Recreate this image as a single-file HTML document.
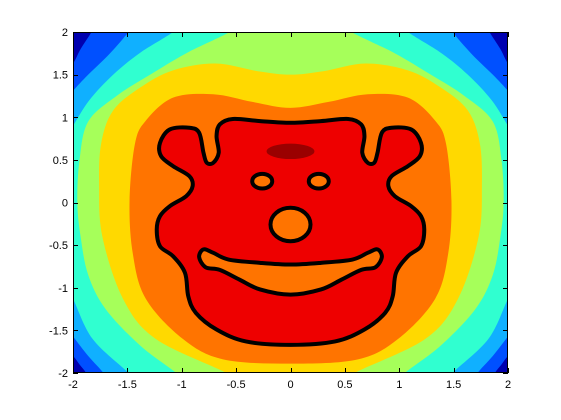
<!DOCTYPE html>
<html><head><meta charset="utf-8"><style>
body{margin:0;background:#fff;}
svg{display:block;font-family:"Liberation Sans",sans-serif;}
</style></head><body>
<svg id="chart" width="561" height="420"></svg>
<script>
// ---- data (data coordinates; left half, mirrored about x=0) ----
const xTicks = [-2,-1.5,-1,-0.5,0,0.5,1,1.5,2];
const yTicks = [-2,-1.5,-1,-0.5,0,0.5,1,1.5,2];
const xTickLabels = ["-2","-1.5","-1","-0.5","0","0.5","1","1.5","2"];
const yTickLabels = ["-2","-1.5","-1","-0.5","0","0.5","1","1.5","2"];
const levelColors = ["#0000b0","#0050ff","#10b0ff","#30ffd0","#a6ff5a","#ffd900","#ff7400","#ee0000","#9a0000"];
const blueLevel = [[-1.8,2.1],[-1.83,2.0],[-1.93,1.8],[-2.0,1.63],[-2.1,1.5],[-2.1,-1.7],[-2.0,-1.80],[-1.94,-1.9],[-1.88,-2.0],[-1.86,-2.1]];
const lightBlueLevel = [[-1.45,2.1],[-1.49,2.0],[-1.66,1.75],[-1.86,1.5],[-2.0,1.31],[-2.1,1.15],[-2.1,-1.4],[-2.0,-1.57],[-1.86,-1.8],[-1.72,-2.0],[-1.7,-2.1]];
const cyanLevel = [[-1.03,2.1],[-1.08,2.0],[-1.39,1.75],[-1.63,1.5],[-1.85,1.2],[-2.0,0.9],[-2.1,0.7],[-2.1,-0.9],[-2.0,-1.13],[-1.82,-1.6],[-1.49,-2.0],[-1.45,-2.1]];
const greenLevel = [[-0.5,2.1],[-0.56,2.0],[-0.96,1.75],[-1.29,1.5],[-1.6,1.25],[-1.86,0.95],[-1.94,0.5],[-1.96,0],[-1.93,-0.4],[-1.86,-0.85],[-1.70,-1.25],[-1.38,-1.68],[-1.05,-2.0],[-1.0,-2.1]];
const yellowLevel = [[0,1.5],[-0.3,1.54],[-0.69,1.63],[-1.08,1.55],[-1.38,1.35],[-1.63,1.08],[-1.74,0.7],[-1.76,0.2],[-1.73,-0.4],[-1.54,-1.13],[-1.24,-1.60],[-0.59,-2.0],[-0.55,-2.1]];
const orangeLevel = [[0,1.11],[-0.35,1.18],[-0.71,1.27],[-1.08,1.23],[-1.33,0.96],[-1.43,0.69],[-1.48,0.02],[-1.45,-0.6],[-1.33,-1.13],[-0.99,-1.60],[-0.62,-1.84],[0,-1.89]];
const faceContour = [[0,0.935],[-0.28,0.955],[-0.53,0.98],[-0.65,0.916],[-0.68,0.779],[-0.66,0.583],[-0.71,0.466],[-0.77,0.466],[-0.80,0.583],[-0.84,0.818],[-0.93,0.877],[-1.11,0.857],[-1.20,0.70],[-1.19,0.544],[-1.08,0.427],[-0.93,0.309],[-0.90,0.192],[-0.96,0.074],[-1.11,-0.043],[-1.20,-0.16],[-1.23,-0.317],[-1.20,-0.513],[-1.08,-0.63],[-0.97,-0.826],[-0.94,-1.10],[-0.87,-1.295],[-0.68,-1.49],[-0.41,-1.63],[0,-1.67]];
const mouthContour = [[0,-0.728],[-0.28,-0.708],[-0.57,-0.669],[-0.71,-0.59],[-0.80,-0.55],[-0.84,-0.64],[-0.78,-0.76],[-0.65,-0.79],[-0.47,-0.904],[-0.28,-1.02],[0,-1.08]];
const noseEllipse = [0,-0.258,0.184,0.196];
const eyeEllipses = [[-0.26,0.25,0.092,0.086],[0.26,0.25,0.092,0.086]];
const peakEllipse = [0,0.60,0.22,0.09];

// ---- axes ----
const L=73,R=508,T=32,B=373;
const sx=v=>L+(v+2)/4*(R-L);
const sy=v=>B-(v+2)/4*(B-T);
const NS="http://www.w3.org/2000/svg";
const svg=document.getElementById('chart');
function mk(tag,attrs,parent){const e=document.createElementNS(NS,tag);for(const k in attrs)e.setAttribute(k,attrs[k]);(parent||svg).appendChild(e);return e;}
function mirror(pts){const full=pts.slice();for(let i=pts.length-1;i>=0;i--){if(pts[i][0]!==0)full.push([-pts[i][0],pts[i][1]]);}return full;}
function seg(p,closed){
  const n=p.length;let d='';const cnt=closed?n:n-1;
  for(let i=0;i<cnt;i++){
    const p0=closed?p[(i-1+n)%n]:p[Math.max(i-1,0)],p1=p[i],p2=p[(i+1)%n],p3=closed?p[(i+2)%n]:p[Math.min(i+2,n-1)];
    const c1=[p1[0]+(p2[0]-p0[0])/6,p1[1]+(p2[1]-p0[1])/6],c2=[p2[0]-(p3[0]-p1[0])/6,p2[1]-(p3[1]-p1[1])/6];
    d+=`C${c1[0]},${c1[1]} ${c2[0]},${c2[1]} ${p2[0]},${p2[1]}`;}
  return d;}
function smoothClosed(pts){const p=pts.map(q=>[sx(q[0]),sy(q[1])]);return `M${p[0][0]},${p[0][1]}`+seg(p,true)+'Z';}
function openLevel(pts){
  const lp=pts.map(q=>[sx(q[0]),sy(q[1])]);
  const rp=pts.slice().reverse().map(q=>[sx(-q[0]),sy(q[1])]);
  return `M${lp[0][0]},${lp[0][1]}`+seg(lp,false)+`L${rp[0][0]},${rp[0][1]}`+seg(rp,false)+'Z';}
function yellowPath(pts){
  const left=pts.slice().reverse().map(q=>[sx(q[0]),sy(q[1])]);
  const right=pts.slice(1).map(q=>[sx(-q[0]),sy(q[1])]);
  const all=left.concat(right);
  return `M${all[0][0]},${all[0][1]}`+seg(all,false)+'Z';}

const defs=mk('defs',{});
const cp=mk('clipPath',{id:'plotclip'},defs);
mk('rect',{x:L,y:T,width:R-L,height:B-T},cp);
const g=mk('g',{'clip-path':'url(#plotclip)'});



const bg=mk('rect',{x:L,y:T,width:R-L,height:B-T,fill:levelColors[0]},g);


const openLevels=[blueLevel,lightBlueLevel,cyanLevel,greenLevel];
const openNames=['level-2-region','level-3-region','level-4-region','level-5-region'];
openLevels.forEach((lv,i)=>{
  const e=mk('path',{d:openLevel(lv),fill:levelColors[i+1]},g);
  
  
});
const yel=mk('path',{d:yellowPath(yellowLevel),fill:levelColors[5]},g);


const org=mk('path',{d:smoothClosed(mirror(orangeLevel)),fill:levelColors[6]},g);


const face=mk('path',{d:smoothClosed(mirror(faceContour)),fill:levelColors[7],stroke:'#000','stroke-width':4},g);


const pk=mk('ellipse',{cx:sx(peakEllipse[0]),cy:sy(peakEllipse[1]),rx:peakEllipse[2]*(R-L)/4,ry:peakEllipse[3]*(B-T)/4,fill:levelColors[8]},g);


eyeEllipses.forEach((e,i)=>{
  const el=mk('ellipse',{cx:sx(e[0]),cy:sy(e[1]),rx:e[2]*(R-L)/4,ry:e[3]*(B-T)/4,fill:levelColors[6],stroke:'#000','stroke-width':4},g);
  
  
});
const nose=mk('ellipse',{cx:sx(noseEllipse[0]),cy:sy(noseEllipse[1]),rx:noseEllipse[2]*(R-L)/4,ry:noseEllipse[3]*(B-T)/4,fill:levelColors[6],stroke:'#000','stroke-width':4},g);


const mouth=mk('path',{d:smoothClosed(mirror(mouthContour)),fill:levelColors[6],stroke:'#000','stroke-width':4},g);



// frame & ticks
const frame=mk('rect',{x:L+0.5,y:T+0.5,width:R-L-1,height:B-T-1,fill:'none',stroke:'#000','stroke-width':1});


xTicks.forEach((v,i)=>{
  const x=Math.round(sx(v))+0.5;
  mk('line',{x1:x,y1:B,x2:x,y2:B-5,stroke:'#000'});
  mk('line',{x1:x,y1:T,x2:x,y2:T+5,stroke:'#000'});
  const t=mk('text',{x:sx(v),y:B+15,'text-anchor':'middle','font-size':11,fill:'#000'});
  t.textContent=xTickLabels[i];
  
  
});
yTicks.forEach((v,i)=>{
  const y=Math.round(sy(v))+0.5;
  mk('line',{x1:L,y1:y,x2:L+5,y2:y,stroke:'#000'});
  mk('line',{x1:R,y1:y,x2:R-5,y2:y,stroke:'#000'});
  const t=mk('text',{x:L-5,y:sy(v)+4,'text-anchor':'end','font-size':11,fill:'#000'});
  t.textContent=yTickLabels[i];
  
  
});
</script>
</body></html>
